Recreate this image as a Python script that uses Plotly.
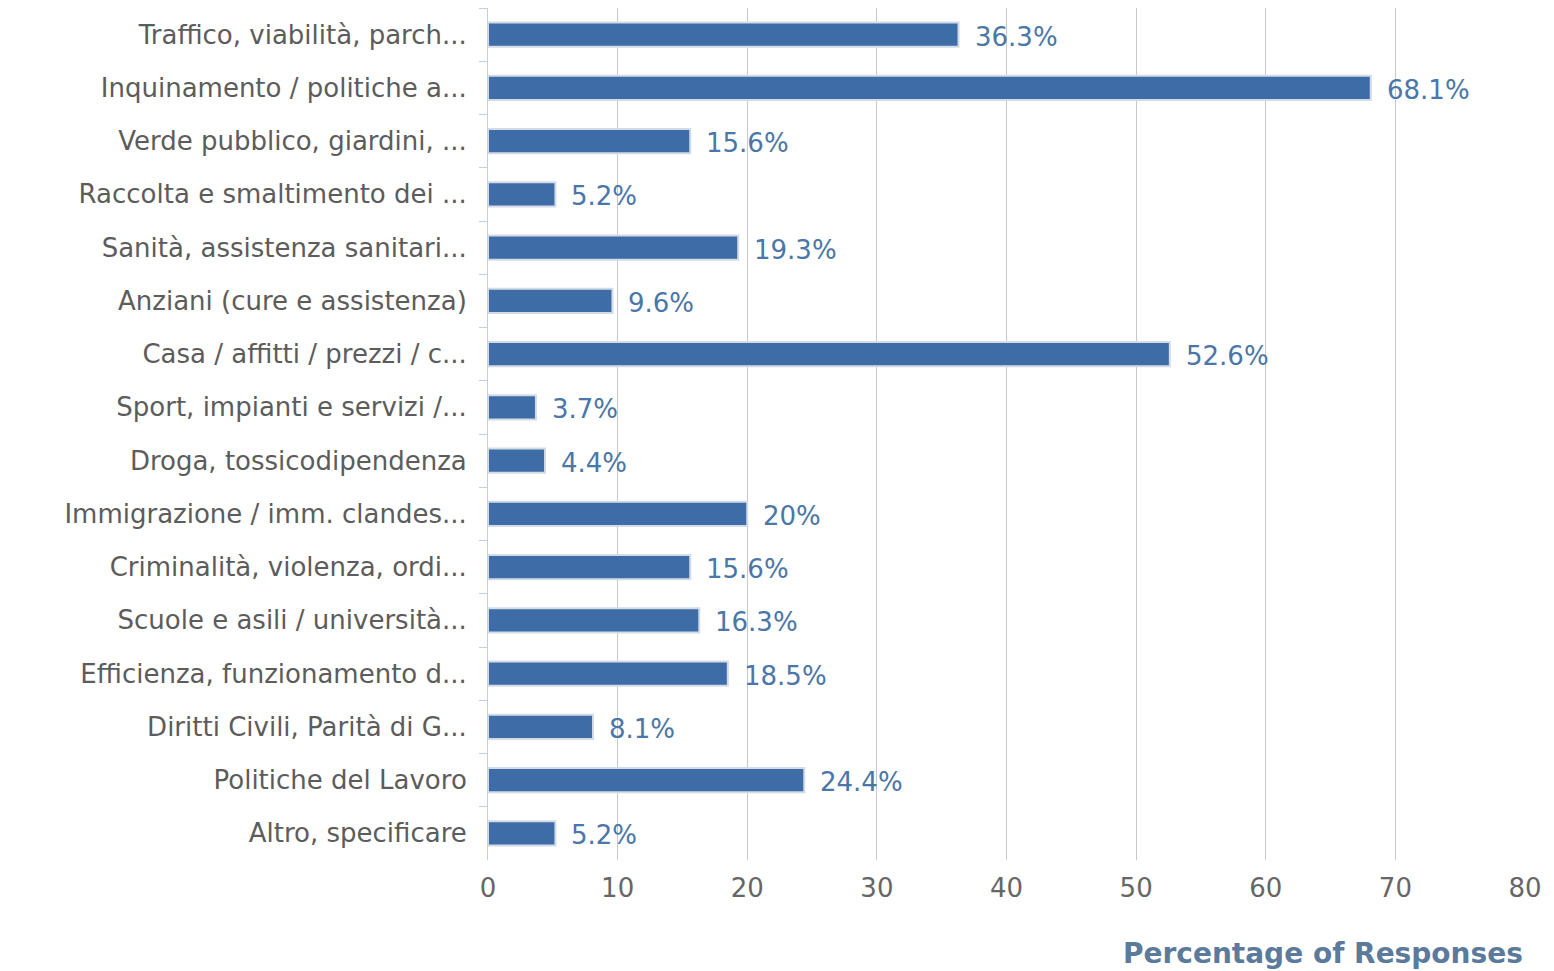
import plotly.graph_objects as go

categories = [
    "Traffico, viabilità, parch...",
    "Inquinamento / politiche a...",
    "Verde pubblico, giardini, ...",
    "Raccolta e smaltimento dei ...",
    "Sanità, assistenza sanitari...",
    "Anziani (cure e assistenza)",
    "Casa / affitti / prezzi / c...",
    "Sport, impianti e servizi /...",
    "Droga, tossicodipendenza",
    "Immigrazione / imm. clandes...",
    "Criminalità, violenza, ordi...",
    "Scuole e asili / università...",
    "Efficienza, funzionamento d...",
    "Diritti Civili, Parità di G...",
    "Politiche del Lavoro",
    "Altro, specificare",
]
values = [36.3, 68.1, 15.6, 5.2, 19.3, 9.6, 52.6, 3.7, 4.4, 20, 15.6, 16.3, 18.5, 8.1, 24.4, 5.2]
value_labels = [f"{v:g}%" for v in values]
x_ticks = [0, 10, 20, 30, 40, 50, 60, 70, 80]

FONT = "DejaVu Sans, Verdana, sans-serif"

fig = go.Figure(
    go.Bar(
        x=values,
        y=categories,
        orientation="h",
        marker=dict(color="#3e6ca7", line=dict(color="#d3dbe6", width=2)),
        hovertemplate="%{y}: %{x}%<extra></extra>",
    )
)

# value labels to the right of each bar, with a bit more gap than textposition="outside"
for cat, v, lbl in zip(categories, values, value_labels):
    fig.add_annotation(
        x=v, y=cat, text=lbl, showarrow=False,
        xanchor="left", yanchor="middle", xshift=14, yshift=-2,
        font=dict(family=FONT, size=26, color="#4a76a8"),
    )

fig.add_annotation(
    xref="paper", yref="paper", x=1, y=0, yshift=-93,
    xanchor="right", yanchor="middle", showarrow=False,
    text="<b>Percentage of Responses</b>",
    font=dict(family=FONT, size=28, color="#5b7a9c"),
)

# page body has an 8px margin, so the figure is shrunk by that much
fig.update_layout(
    width=1546,
    height=963,
    margin=dict(l=480, r=29, t=0, b=111),
    paper_bgcolor="white",
    plot_bgcolor="white",
    bargap=0.54,
    showlegend=False,
    font=dict(family=FONT, size=26, color="#5c5c5c"),
)

fig.update_xaxes(
    range=[0, 80],
    tickvals=x_ticks,
    showgrid=True,
    gridcolor="#c8c8c8",
    gridwidth=1,
    zeroline=False,
    showline=False,
    ticks="",
    automargin=False,
    ticklabelstandoff=10,
    tickfont=dict(family=FONT, size=26, color="#666666"),
)

fig.update_yaxes(
    autorange="reversed",
    showline=True,
    linecolor="#c0d0e0",
    linewidth=1,
    ticks="outside",
    tickson="boundaries",
    ticklen=8,
    tickcolor="#c0d0e0",
    showgrid=False,
    automargin=False,
    tickfont=dict(family=FONT, size=26, color="#5c5c5c"),
    ticklabelstandoff=15,
)

fig.write_html("out.html")
